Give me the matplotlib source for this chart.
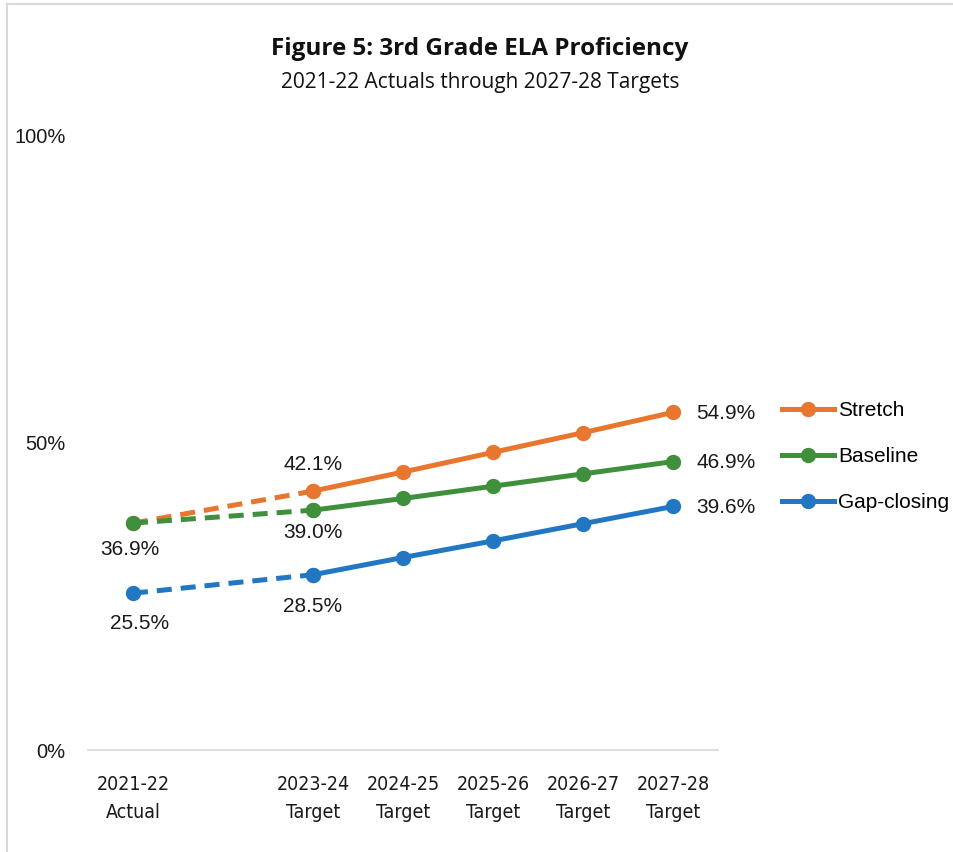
import numpy as np
import matplotlib.pyplot as plt
from matplotlib.lines import Line2D

# Dados (2022-23 nao tem valor, fica um espaco vazio no eixo)
periods = ["2021-22", "2022-23", "2023-24", "2024-25", "2025-26", "2026-27", "2027-28"]
kinds = ["Actual", "", "Target", "Target", "Target", "Target", "Target"]
stretch = [36.9, np.nan, 42.1, 45.2, 48.4, 51.6, 54.9]
baseline = [36.9, np.nan, 39.0, 40.9, 42.9, 44.9, 46.9]
gap_closing = [25.5, np.nan, 28.5, 31.3, 34.0, 36.8, 39.6]

series = [
    ("Stretch", stretch, "#E8762F"),
    ("Baseline", baseline, "#3F8F3C"),
    ("Gap-closing", gap_closing, "#2277C2"),
]

fig = plt.figure(figsize=(9.54, 8.52), dpi=100)
ax = fig.add_axes([0.0922, 0.1197, 0.6604, 0.7218])

x = np.arange(len(periods))
lw = 3.6
ms = 10

for name, vals, color in series:
    v = np.array(vals, dtype=float)
    ok = ~np.isnan(v)
    xs, ys = x[ok], v[ok]
    # trecho real -> meta (tracejado)
    ax.plot(xs[:2], ys[:2], color=color, lw=lw, linestyle=(0, (3, 1.8)),
            marker="o", markersize=ms, zorder=2)
    ax.plot(xs[1:], ys[1:], color=color, lw=lw, marker="o", markersize=ms,
            label=name, zorder=3)

# rotulos de dados
lab = dict(fontsize=15, family="Liberation Sans", color="#1a1a1a",
           ha="center", va="center", textcoords="offset points")
i_first, i_tgt, i_last = 0, 2, len(periods) - 1
ax.annotate(f"{stretch[i_tgt]:.1f}%", (i_tgt, stretch[i_tgt]), xytext=(0, 19), **lab)
ax.annotate(f"{baseline[i_tgt]:.1f}%", (i_tgt, baseline[i_tgt]), xytext=(0, -16), **lab)
ax.annotate(f"{baseline[i_first]:.1f}%", (i_first, baseline[i_first]), xytext=(-2, -19), **lab)
ax.annotate(f"{gap_closing[i_first]:.1f}%", (i_first, gap_closing[i_first]), xytext=(5, -22), **lab)
ax.annotate(f"{gap_closing[i_tgt]:.1f}%", (i_tgt, gap_closing[i_tgt]), xytext=(0, -23), **lab)
for name, vals, color in series:
    ax.annotate(f"{vals[i_last]:.1f}%", (i_last, vals[i_last]), xytext=(38, -1), **lab)

# eixos
ax.set_xlim(-0.5, len(periods) - 0.5)
ax.set_ylim(0, 100)
ax.set_yticks([0, 50, 100])
ax.set_yticklabels(["0%", "50%", "100%"], family="Liberation Sans", fontsize=14.5, color="#1a1a1a")
tick_idx = [i for i, k in enumerate(kinds) if k]
ax.set_xticks(tick_idx)
ax.set_xticklabels([f"{periods[i]}\n{kinds[i]}" for i in tick_idx],
                   family="DejaVu Sans", stretch="condensed", fontsize=14,
                   color="#1a1a1a", linespacing=1.6)
ax.tick_params(axis="both", length=0)
ax.tick_params(axis="y", pad=16)
ax.tick_params(axis="x", pad=18)
for s in ["top", "right", "left"]:
    ax.spines[s].set_visible(False)
ax.spines["bottom"].set_color("#D9D9D9")
ax.spines["bottom"].set_linewidth(1.2)

# legenda
ax.legend(loc="upper left", bbox_to_anchor=(1.085, 0.584), frameon=False,
          prop={"family": "Liberation Sans", "size": 15}, handlelength=2.5,
          handletextpad=0.2, labelspacing=1.29, borderpad=0)

# titulo
fig.text(0.503, 0.943, "Figure 5: 3rd Grade ELA Proficiency", ha="center", va="center",
         fontsize=17.5, fontweight="bold", family="Open Sans", color="#111111")
fig.text(0.503, 0.903, "2021-22 Actuals through 2027-28 Targets", ha="center", va="center",
         fontsize=15, family="Open Sans", color="#111111")

# borda do grafico
fig.add_artist(Line2D([0.0075, 0.0075], [0, 0.995], color="#D9D9D9", lw=1.5))
fig.add_artist(Line2D([0.0075, 1], [0.995, 0.995], color="#D9D9D9", lw=1.5))

plt.savefig("out.png", dpi=100)
